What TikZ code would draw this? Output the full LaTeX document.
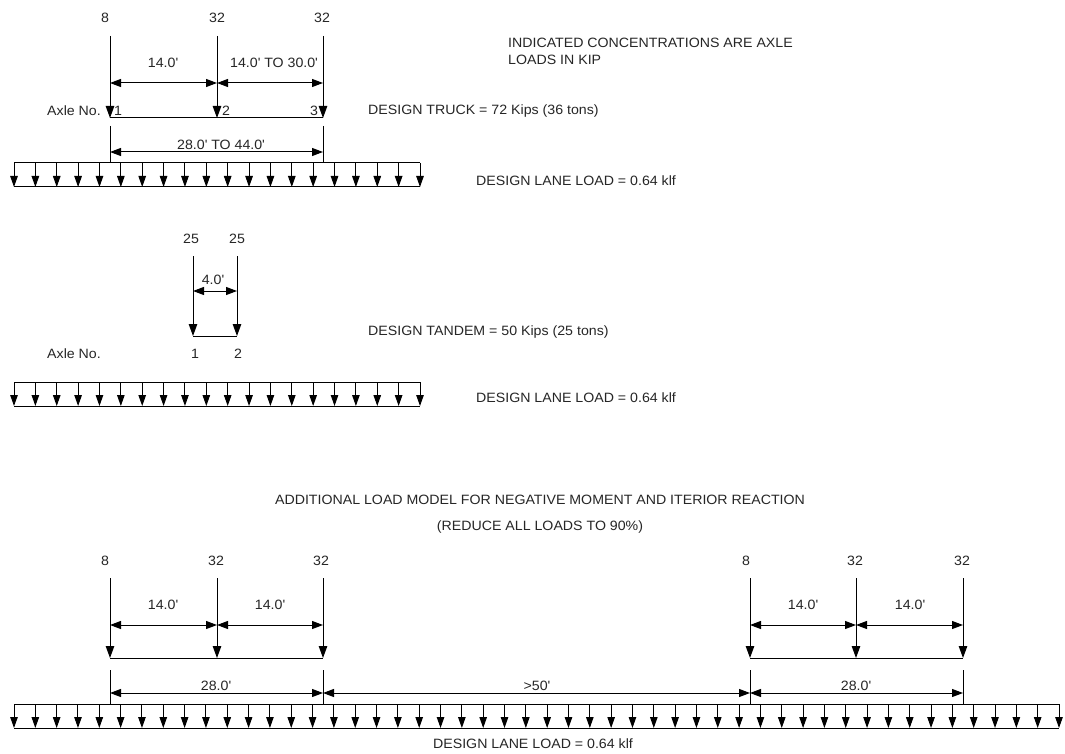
\documentclass[tikz,border=0pt]{standalone}
\usepackage{fontspec}
\setmainfont{Liberation Sans}[FakeStretch=1.05]
\usetikzlibrary{arrows.meta}
\newcommand\myft{\textquotesingle}
\begin{document}
\begin{tikzpicture}[x=1pt,y=-1pt,
  txt/.style={font=\fontsize{13.5}{15}\selectfont, inner sep=0pt, text=black!85},
  ln/.style={line width=1pt},
  axle/.style={ln, -{Triangle[length=12pt,width=8.5pt]}},
  dimar/.style={ln, {Triangle[length=11pt,width=8pt]}-{Triangle[length=11pt,width=8pt]}},
  lane/.style={line width=1pt, -{Triangle[length=11pt,width=7.5pt]}}
]
\useasboundingbox[fill=white] (0,0) rectangle (1065,754);

% ================= TOP: DESIGN TRUCK =================
\foreach \n/\x in {a/110,b/217,c/323}{
  \coordinate (T\n top) at (\x,36);
  \coordinate (T\n bot) at (\x,118);
  \coordinate (T\n dim) at (\x,83);
}
\draw[axle] (Tatop) -- (Tabot);
\draw[axle] (Tbtop) -- (Tbbot);
\draw[axle] (Tctop) -- (Tcbot);
\draw[ln] (Tabot) -- (Tcbot);
\draw[dimar] (Tadim) -- (Tbdim);
\draw[dimar] (Tbdim) -- (Tcdim);
\node[txt] (t8) at (105,18) {8};
\node[txt] (t32a) at (217,18) {32};
\node[txt] (t32b) at (322,18) {32};
\node[txt] (td1) at (163,63) {14.0\myft};
\node[txt] (td2) at (274,63) {14.0\myft{} TO 30.0\myft};
\node[txt, anchor=east] (taxle) at (101,111) {Axle No.};
\node[txt] (tn1) at (118,111) {1};
\node[txt] (tn2) at (226,111) {2};
\node[txt] (tn3) at (314,111) {3};
\coordinate (Teat) at (110,126); \coordinate (Teab) at (110,163);
\coordinate (Tect) at (323,126); \coordinate (Tecb) at (323,163);
\draw[ln] (Teat) -- (Teab);
\draw[ln] (Tect) -- (Tecb);
\coordinate (Tla) at (110,152); \coordinate (Tlc) at (323,152);
\draw[dimar] (Tla) -- (Tlc);
\node[txt] (tdl) at (221,145) {28.0\myft{} TO 44.0\myft};
\node[txt, anchor=west] (ttruck) at (368,111) {DESIGN TRUCK = 72 Kips (36 tons)};
\node[txt, anchor=west] (tind1) at (508,43) {INDICATED CONCENTRATIONS ARE AXLE};
\node[txt, anchor=west] (tind2) at (508,60) {LOADS IN KIP};

% lane load 1
\coordinate (L1tl) at (14,163); \coordinate (L1tr) at (420,163);
\coordinate (L1bl) at (14,187); \coordinate (L1br) at (420,187);
\draw[ln] (L1tl) -- (L1tr);
\draw[ln] (L1bl) -- (L1br);
\foreach \i in {0,...,19}{
  \coordinate (L1t\i) at ({14+\i*21.3684},163);
  \coordinate (L1b\i) at ({14+\i*21.3684},187);
  \draw[lane] (L1t\i) -- (L1b\i);
}
\node[txt, anchor=west] (tlane1) at (476,181) {DESIGN LANE LOAD = 0.64 klf};

% ================= MIDDLE: DESIGN TANDEM =================
\foreach \n/\x in {a/193,b/237}{
  \coordinate (D\n top) at (\x,256);
  \coordinate (D\n bot) at (\x,336);
  \coordinate (D\n dim) at (\x,291);
}
\draw[axle] (Datop) -- (Dabot);
\draw[axle] (Dbtop) -- (Dbbot);
\draw[ln] (Dabot) -- (Dbbot);
\draw[dimar] (Dadim) -- (Dbdim);
\node[txt] (d25a) at (191,239) {25};
\node[txt] (d25b) at (237,239) {25};
\node[txt] (dd) at (213,280) {4.0\myft};
\node[txt, anchor=east] (daxle) at (101,354) {Axle No.};
\node[txt] (dn1) at (195,354) {1};
\node[txt] (dn2) at (238,354) {2};
\node[txt, anchor=west] (dtandem) at (368,332) {DESIGN TANDEM = 50 Kips (25 tons)};

% lane load 2
\coordinate (L2tl) at (14,382); \coordinate (L2tr) at (420,382);
\coordinate (L2bl) at (14,406); \coordinate (L2br) at (420,406);
\draw[ln] (L2tl) -- (L2tr);
\draw[ln] (L2bl) -- (L2br);
\foreach \i in {0,...,19}{
  \coordinate (L2t\i) at ({14+\i*21.3684},382);
  \coordinate (L2b\i) at ({14+\i*21.3684},406);
  \draw[lane] (L2t\i) -- (L2b\i);
}
\node[txt, anchor=west] (tlane2) at (476,398) {DESIGN LANE LOAD = 0.64 klf};

% ================= BOTTOM: ADDITIONAL LOAD MODEL =================
\node[txt] (btitle) at (540,500) {ADDITIONAL LOAD MODEL FOR NEGATIVE MOMENT AND ITERIOR REACTION};
\node[txt] (bsub) at (540,527) {(REDUCE ALL LOADS TO 90\%)};

\foreach \n/\x in {a/110,b/217,c/323,d/750,e/856,f/963}{
  \coordinate (B\n top) at (\x,578);
  \coordinate (B\n bot) at (\x,658);
  \coordinate (B\n dim) at (\x,625);
}
\foreach \n in {a,b,c,d,e,f}{ \draw[axle] (B\n top) -- (B\n bot); }
\draw[ln] (Babot) -- (Bcbot);
\draw[ln] (Bdbot) -- (Bfbot);
\draw[dimar] (Badim) -- (Bbdim);
\draw[dimar] (Bbdim) -- (Bcdim);
\draw[dimar] (Bddim) -- (Bedim);
\draw[dimar] (Bedim) -- (Bfdim);
\node[txt] (b8a) at (105,561) {8};
\node[txt] (b32a) at (216,561) {32};
\node[txt] (b32b) at (321,561) {32};
\node[txt] (b8b) at (746,561) {8};
\node[txt] (b32c) at (855,561) {32};
\node[txt] (b32d) at (962,561) {32};
\node[txt] (bd1) at (163,605) {14.0\myft};
\node[txt] (bd2) at (270,605) {14.0\myft};
\node[txt] (bd3) at (803,605) {14.0\myft};
\node[txt] (bd4) at (910,605) {14.0\myft};

\foreach \n/\x in {a/110,c/323,d/750,f/963}{
  \coordinate (E\n top) at (\x,670);
  \coordinate (E\n bot) at (\x,704);
  \coordinate (E\n dim) at (\x,693);
}
\foreach \n in {a,c,d,f}{ \draw[ln] (E\n top) -- (E\n bot); }
\draw[dimar] (Eadim) -- (Ecdim);
\draw[dimar] (Ecdim) -- (Eddim);
\draw[dimar] (Eddim) -- (Efdim);
\node[txt] (bl1) at (216,686) {28.0\myft};
\node[txt] (bl2) at (537,686) {>50\myft};
\node[txt] (bl3) at (856,686) {28.0\myft};

% lane load 3
\coordinate (L3tl) at (14,704); \coordinate (L3tr) at (1059,704);
\coordinate (L3bl) at (14,728); \coordinate (L3br) at (1059,728);
\draw[ln] (L3tl) -- (L3tr);
\draw[ln] (L3bl) -- (L3br);
\foreach \i in {0,...,49}{
  \coordinate (L3t\i) at ({14+\i*21.3265},704);
  \coordinate (L3b\i) at ({14+\i*21.3265},728);
  \draw[lane] (L3t\i) -- (L3b\i);
}
\node[txt] (tlane3) at (533,744) {DESIGN LANE LOAD = 0.64 klf};
\end{tikzpicture}
\end{document}
